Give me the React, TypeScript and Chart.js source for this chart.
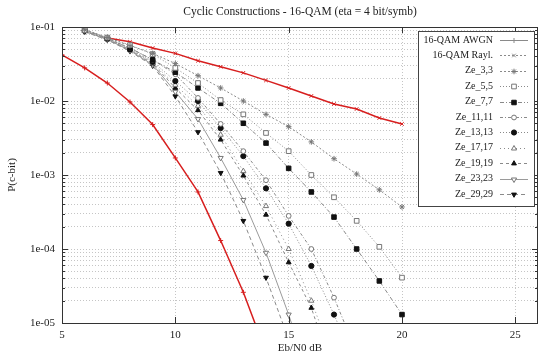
import React, { useEffect, useRef } from 'react';
import { Chart, registerables } from 'chart.js';

Chart.register(...registerables);

// ---------- text ----------
const TITLE = 'Cyclic Constructions - 16-QAM (eta = 4 bit/symb)';
const X_TITLE = 'Eb/N0 dB';
const Y_TITLE = 'P(c-bit)';

// ---------- axes ----------
const X_MIN = 5;
const X_MAX = 26;
const xTickValues = [5, 10, 15, 20, 25];
const Y_MIN = 1e-5;
const Y_MAX = 1e-1;
const yDecadeValues = [1e-5, 1e-4, 1e-3, 1e-2, 1e-1];
const yDecadeLabels = ['1e-05', '1e-04', '1e-03', '1e-02', '1e-01'];
const yMinorMultipliers = [2, 3, 4, 5, 6, 7, 8, 9];

// ---------- data ----------
const awgnEbN0 = [5, 6, 7, 8, 9, 10, 11, 12, 13, 14];
const awgnBer = [0.042, 0.028, 0.0175, 0.0097, 0.0048, 0.0017, 0.00059, 0.00013, 0.000026, 0.000004];

const raylEbN0 = [7, 8, 9, 10, 11, 12, 13, 14, 15, 16, 17, 18, 19, 20];
const raylBer = [0.071, 0.063, 0.052, 0.044, 0.035, 0.029, 0.024, 0.019, 0.015, 0.0117, 0.0091, 0.0078, 0.0059, 0.0049];

const ze3EbN0 = [6, 7, 8, 9, 10, 11, 12, 13, 14, 15, 16, 17, 18, 19, 20];
const ze3Ber = [0.092, 0.072, 0.056, 0.044, 0.032, 0.022, 0.015, 0.010, 0.0066, 0.0045, 0.0028, 0.00166, 0.00103, 0.00063, 0.00037];

const ze5EbN0 = [6, 7, 8, 9, 10, 11, 12, 13, 14, 15, 16, 17, 18, 19, 20];
const ze5Ber = [0.091, 0.072, 0.057, 0.043, 0.028, 0.0175, 0.0103, 0.0066, 0.0037, 0.0021, 0.0010, 0.0005, 0.00024, 0.000107, 0.000041];

const ze7EbN0 = [6, 7, 8, 9, 10, 11, 12, 13, 14, 15, 16, 17, 18, 19, 20];
const ze7Ber = [0.093, 0.070, 0.052, 0.036, 0.0245, 0.015, 0.0093, 0.0050, 0.0027, 0.00123, 0.00059, 0.00027, 0.0001, 0.000037, 0.000013];

const ze11EbN0 = [6, 7, 8, 9, 10, 11, 12, 13, 14, 15, 16, 17, 18];
const ze11Ber = [0.090, 0.070, 0.052, 0.036, 0.023, 0.011, 0.0049, 0.0021, 0.00085, 0.00028, 0.0001, 0.000022, 0.000004];

const ze13EbN0 = [6, 7, 8, 9, 10, 11, 12, 13, 14, 15, 16, 17, 18];
const ze13Ber = [0.089, 0.071, 0.050, 0.034, 0.0186, 0.010, 0.0043, 0.0018, 0.00066, 0.00022, 0.000059, 0.000013, 0.0000025];

const ze17EbN0 = [6, 7, 8, 9, 10, 11, 12, 13, 14, 15, 16, 17];
const ze17Ber = [0.088, 0.069, 0.050, 0.033, 0.0165, 0.0086, 0.0035, 0.00113, 0.00038, 0.0001, 0.00002, 0.000003];

const ze19EbN0 = [6, 7, 8, 9, 10, 11, 12, 13, 14, 15, 16, 17];
const ze19Ber = [0.088, 0.068, 0.049, 0.032, 0.015, 0.0075, 0.003, 0.00098, 0.00029, 0.000066, 0.000016, 0.000002];

const ze23EbN0 = [6, 7, 8, 9, 10, 11, 12, 13, 14, 15, 16];
const ze23Ber = [0.087, 0.068, 0.048, 0.031, 0.0133, 0.0057, 0.0017, 0.00046, 0.000089, 0.000013, 0.0000015];

const ze29EbN0 = [6, 7, 8, 9, 10, 11, 12, 13, 14, 15];
const ze29Ber = [0.086, 0.067, 0.047, 0.030, 0.0116, 0.0038, 0.00107, 0.00024, 0.000041, 0.000006];

const seriesLabels = [
  '16-QAM AWGN', '16-QAM Rayl.', 'Ze_3,3', 'Ze_5,5', 'Ze_7,7', 'Ze_11,11',
  'Ze_13,13', 'Ze_17,17', 'Ze_19,19', 'Ze_23,23', 'Ze_29,29',
];
const seriesX = [awgnEbN0, raylEbN0, ze3EbN0, ze5EbN0, ze7EbN0, ze11EbN0, ze13EbN0, ze17EbN0, ze19EbN0, ze23EbN0, ze29EbN0];
const seriesY = [awgnBer, raylBer, ze3Ber, ze5Ber, ze7Ber, ze11Ber, ze13Ber, ze17Ber, ze19Ber, ze23Ber, ze29Ber];

// ---------- styles ----------
const FONT = "'Liberation Serif', 'DejaVu Serif', serif";
const TEXT = '#222';
const RED = 'rgb(215,30,30)';
const GRAY = '#8a8a8a';
const DARK = '#111';
const OPEN = '#777';

type Style = {
  color: string; legendColor: string; width: number; dash: number[];
  point: string; radius: number; rot: number; fill: string; stroke: string;
};
const seriesStyles: Style[] = [
  { color: RED, legendColor: GRAY, width: 1.5, dash: [], point: 'cross', radius: 2.5, rot: 0, fill: RED, stroke: RED },
  { color: RED, legendColor: GRAY, width: 1.5, dash: [], point: 'crossRot', radius: 2.5, rot: 0, fill: RED, stroke: RED },
  { color: GRAY, legendColor: GRAY, width: 1, dash: [2, 2], point: 'star', radius: 2.8, rot: 0, fill: OPEN, stroke: OPEN },
  { color: GRAY, legendColor: GRAY, width: 1, dash: [1, 2], point: 'rect', radius: 3.3, rot: 0, fill: '#fff', stroke: OPEN },
  { color: GRAY, legendColor: GRAY, width: 1, dash: [4, 2, 1, 2], point: 'rect', radius: 3.2, rot: 0, fill: DARK, stroke: DARK },
  { color: GRAY, legendColor: GRAY, width: 1, dash: [3, 2, 1, 2], point: 'circle', radius: 2.4, rot: 0, fill: '#fff', stroke: OPEN },
  { color: GRAY, legendColor: GRAY, width: 1, dash: [1, 2], point: 'circle', radius: 2.6, rot: 0, fill: DARK, stroke: DARK },
  { color: GRAY, legendColor: GRAY, width: 1, dash: [1, 3], point: 'triangle', radius: 3, rot: 0, fill: '#fff', stroke: OPEN },
  { color: GRAY, legendColor: GRAY, width: 1, dash: [3, 3], point: 'triangle', radius: 2.8, rot: 0, fill: DARK, stroke: DARK },
  { color: '#9a9a9a', legendColor: '#9a9a9a', width: 1, dash: [], point: 'triangle', radius: 3, rot: 180, fill: '#fff', stroke: OPEN },
  { color: GRAY, legendColor: GRAY, width: 1, dash: [4, 3], point: 'triangle', radius: 2.8, rot: 180, fill: DARK, stroke: DARK },
];

function drawMarker(ctx: CanvasRenderingContext2D, st: Style, x: number, y: number) {
  const r = st.radius;
  ctx.save();
  ctx.translate(x, y);
  ctx.rotate((st.rot * Math.PI) / 180);
  ctx.setLineDash([]);
  ctx.lineWidth = 1;
  ctx.strokeStyle = st.point === 'cross' || st.point === 'crossRot' ? st.legendColor : st.stroke;
  ctx.fillStyle = st.fill;
  ctx.beginPath();
  const d = r * Math.SQRT1_2;
  switch (st.point) {
    case 'cross':
      ctx.moveTo(-r, 0); ctx.lineTo(r, 0); ctx.moveTo(0, -r); ctx.lineTo(0, r); ctx.stroke();
      break;
    case 'crossRot':
      ctx.moveTo(-d, -d); ctx.lineTo(d, d); ctx.moveTo(-d, d); ctx.lineTo(d, -d); ctx.stroke();
      break;
    case 'star':
      ctx.moveTo(-r, 0); ctx.lineTo(r, 0); ctx.moveTo(0, -r); ctx.lineTo(0, r);
      ctx.moveTo(-d, -d); ctx.lineTo(d, d); ctx.moveTo(-d, d); ctx.lineTo(d, -d); ctx.stroke();
      break;
    case 'rect':
      ctx.rect(-d, -d, 2 * d, 2 * d); ctx.fill(); ctx.stroke();
      break;
    case 'circle':
      ctx.arc(0, 0, r, 0, Math.PI * 2); ctx.fill(); ctx.stroke();
      break;
    case 'triangle':
      ctx.moveTo(0, -r); ctx.lineTo(r * 0.866, r * 0.5); ctx.lineTo(-r * 0.866, r * 0.5); ctx.closePath();
      ctx.fill(); ctx.stroke();
      break;
  }
  ctx.restore();
}

const framePlugin = {
  id: 'gnuFrame',
  afterDatasetsDraw(chart: any) {
    const { ctx, chartArea: a, scales } = chart;
    ctx.save();
    ctx.strokeStyle = '#333';
    ctx.lineWidth = 1;
    ctx.setLineDash([]);
    ctx.strokeRect(Math.round(a.left) + 0.5, Math.round(a.top) + 0.5, Math.round(a.right - a.left) - 1, Math.round(a.bottom - a.top));
    ctx.beginPath();
    for (const v of xTickValues) {
      const px = Math.round(scales.x.getPixelForValue(v)) + 0.5;
      ctx.moveTo(px, a.bottom); ctx.lineTo(px, a.bottom - 6);
      ctx.moveTo(px, a.top); ctx.lineTo(px, a.top + 6);
    }
    for (const v of yDecadeValues) {
      const py = Math.round(scales.y.getPixelForValue(v)) + 0.5;
      ctx.moveTo(a.left, py); ctx.lineTo(a.left + 6, py);
      ctx.moveTo(a.right, py); ctx.lineTo(a.right - 6, py);
      for (const m of yMinorMultipliers) {
        const vv = v * m;
        if (vv > Y_MAX) continue;
        const pm = Math.round(scales.y.getPixelForValue(vv)) + 0.5;
        ctx.moveTo(a.left, pm); ctx.lineTo(a.left + 3, pm);
        ctx.moveTo(a.right, pm); ctx.lineTo(a.right - 3, pm);
      }
    }
    ctx.stroke();
    ctx.restore();
  },
};

const legendPlugin = {
  id: 'gnuLegend',
  afterDraw(chart: any) {
    const { ctx, chartArea: a } = chart;
    const boxRight = a.right - 4;
    const boxLeft = boxRight - 116;
    const boxTop = a.top + 4;
    const rowH = 15.4;
    const n = chart.data.datasets.length;
    const boxBottom = boxTop + 10 + rowH * n - 4;
    ctx.save();
    ctx.fillStyle = '#fff';
    ctx.fillRect(boxLeft, boxTop, boxRight - boxLeft, boxBottom - boxTop);
    ctx.strokeStyle = '#444';
    ctx.lineWidth = 1;
    ctx.setLineDash([]);
    ctx.strokeRect(Math.round(boxLeft) + 0.5, Math.round(boxTop) + 0.5, Math.round(boxRight - boxLeft), Math.round(boxBottom - boxTop));
    ctx.font = `10px ${FONT}`;
    ctx.textAlign = 'right';
    ctx.textBaseline = 'middle';
    chart.data.datasets.forEach((ds: any, i: number) => {
      const st = seriesStyles[i];
      const y = boxTop + 9 + i * rowH;
      ctx.fillStyle = TEXT;
      ctx.fillText(ds.label, boxLeft + 75, y);
      const x0 = boxLeft + 82;
      const x1 = boxLeft + 110;
      ctx.beginPath();
      ctx.strokeStyle = st.legendColor;
      ctx.lineWidth = 1;
      ctx.setLineDash(st.dash.length ? st.dash : i === 1 ? [2, 2] : []);
      ctx.moveTo(x0, Math.round(y) + 0.5);
      ctx.lineTo(x1, Math.round(y) + 0.5);
      ctx.stroke();
      drawMarker(ctx, st, (x0 + x1) / 2, Math.round(y) + 0.5);
    });
    ctx.restore();
  },
};

function isDecade(v: number) {
  return yDecadeValues.findIndex((d) => Math.abs(Math.log10(d) - Math.log10(v)) < 1e-6);
}

export default function App() {
  const ref = useRef<HTMLCanvasElement>(null);

  useEffect(() => {
    const datasets = seriesLabels.map((label, i) => {
      const st = seriesStyles[i];
      return {
        label,
        data: seriesX[i].map((x, k) => ({ x, y: seriesY[i][k] })),
        borderColor: st.color,
        borderWidth: st.width,
        borderDash: st.dash,
        pointStyle: st.point,
        pointRadius: st.radius,
        pointRotation: st.rot,
        pointBackgroundColor: st.fill,
        pointBorderColor: st.stroke,
        pointBorderWidth: 1,
        fill: false,
        tension: 0,
        order: i < 2 ? 1 : 0,
      };
    });

    const gridCfg = { color: 'rgba(150,150,150,0.55)', lineWidth: 1, drawTicks: false, tickLength: 0 };
    const borderCfg = { display: false, dash: [1, 2] };
    const tickFont = { family: FONT, size: 11 };

    const chart = new Chart(ref.current as HTMLCanvasElement, {
      type: 'line',
      data: { datasets: datasets as any },
      options: {
        responsive: false,
        animation: false,
        devicePixelRatio: 1,
        layout: { padding: 0 },
        events: [],
        plugins: {
          legend: { display: false },
          tooltip: { enabled: false },
          title: {
            display: true,
            text: TITLE,
            fullSize: false,
            color: TEXT,
            font: { family: FONT, size: 11.5, weight: 'normal' },
            padding: { top: 5.5, bottom: 7.7 },
          },
        },
        scales: {
          x: {
            type: 'linear',
            min: X_MIN,
            max: X_MAX,
            afterBuildTicks: (s: any) => { s.ticks = xTickValues.map((v) => ({ value: v })); },
            afterFit: (s: any) => { s.height = 32; },
            grid: gridCfg,
            border: borderCfg,
            ticks: { padding: 6, font: tickFont, color: TEXT, maxRotation: 0, autoSkip: false },
            title: { display: true, text: X_TITLE, color: TEXT, font: tickFont, padding: { top: 0, bottom: 0 } },
          },
          y: {
            type: 'logarithmic',
            min: Y_MIN,
            max: Y_MAX,
            afterBuildTicks: (s: any) => {
              const t: { value: number }[] = [];
              yDecadeValues.forEach((d) => {
                t.push({ value: d });
                yMinorMultipliers.forEach((m) => { if (d * m < Y_MAX * 1.0001) t.push({ value: d * m }); });
              });
              s.ticks = t;
            },
            afterFit: (s: any) => { s.width = 62; },
            grid: gridCfg,
            border: borderCfg,
            ticks: {
              padding: 7,
              font: tickFont,
              color: TEXT,
              autoSkip: false,
              callback: (v: any) => {
                const idx = isDecade(Number(v));
                return idx >= 0 ? yDecadeLabels[idx] : '';
              },
            },
            title: { display: true, text: Y_TITLE, color: TEXT, font: tickFont, padding: { top: 5.4, bottom: 0 } },
          },
        },
      } as any,
      plugins: [framePlugin, legendPlugin],
    });
    return () => chart.destroy();
  }, []);

  return (
    <div style={{ position: 'absolute', left: 0, top: 0, width: 543, height: 355, background: '#fff', overflow: 'hidden' }}>
      <canvas ref={ref} width={543} height={355} style={{ display: 'block', width: 543, height: 355 }} />
    </div>
  );
}
